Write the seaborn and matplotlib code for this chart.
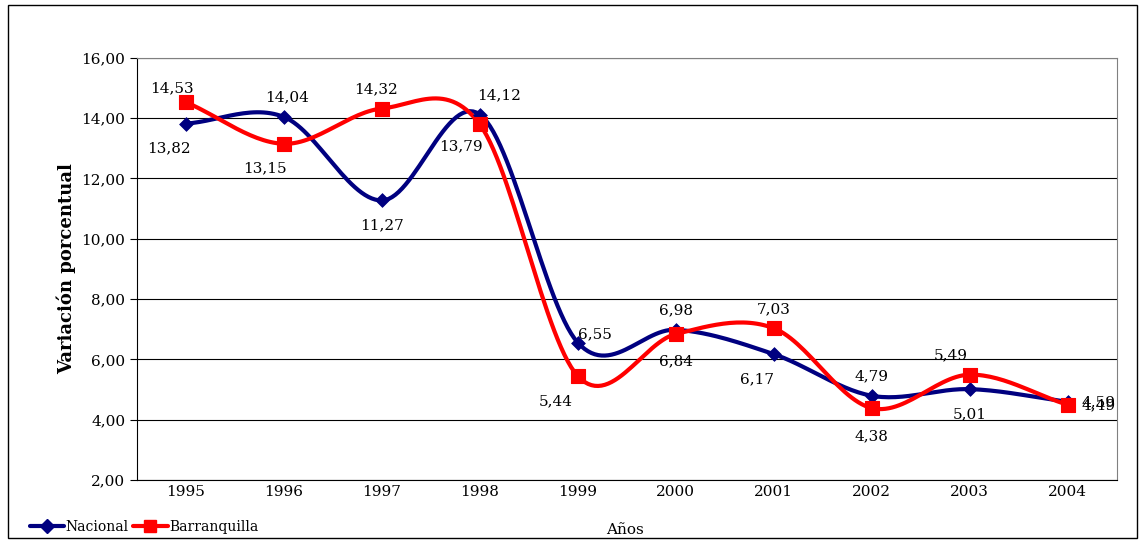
import numpy as np
import pandas as pd
import matplotlib
matplotlib.use("Agg")
import matplotlib.pyplot as plt
import seaborn as sns
from matplotlib.lines import Line2D

years = ["1995", "1996", "1997", "1998", "1999", "2000", "2001", "2002", "2003", "2004"]
nacional = [13.82, 14.04, 11.27, 14.12, 6.55, 6.98, 6.17, 4.79, 5.01, 4.59]
barranquilla = [14.53, 13.15, 14.32, 13.79, 5.44, 6.84, 7.03, 4.38, 5.49, 4.49]

# label offsets in points (dx, dy)
off_n = [(-12, -18), (2, 14), (0, -18), (14, 14), (12, 6), (0, 14), (-12, -18), (0, 14), (0, -18), (22, 0)]
off_b = [(-10, 10), (-14, -18), (-4, 14), (-14, -16), (-16, -18), (0, -20), (0, 14), (0, -20), (-14, 14), (22, 0)]

sns.set_style("white")
plt.rcParams['font.family'] = ['DejaVu Serif']
plt.rcParams.update({"text.color": "black", "axes.labelcolor": "black",
                     "xtick.color": "black", "ytick.color": "black"})

df = pd.DataFrame({"x": np.arange(len(years)) + 0.5, "Nacional": nacional, "Barranquilla": barranquilla})


def smooth(x, y, n=30):
    # Catmull-Rom style smoothing like spreadsheet curves
    x = np.asarray(x, float); y = np.asarray(y, float)
    px = np.concatenate([[2 * x[0] - x[1]], x, [2 * x[-1] - x[-2]]])
    py = np.concatenate([[2 * y[0] - y[1]], y, [2 * y[-1] - y[-2]]])
    xs, ys = [], []
    t = np.linspace(0, 1, n)
    for i in range(1, len(px) - 2):
        for p, out in ((px, xs), (py, ys)):
            p0, p1, p2, p3 = p[i - 1], p[i], p[i + 1], p[i + 2]
            out.extend(0.5 * (2 * p1 + (-p0 + p2) * t + (2 * p0 - 5 * p1 + 4 * p2 - p3) * t ** 2
                              + (-p0 + 3 * p1 - 3 * p2 + p3) * t ** 3))
    return np.array(xs), np.array(ys)


fig = plt.figure(figsize=(11.46, 5.41), dpi=100)
fig.patches.append(plt.Rectangle((0.007, 0.005), 0.985, 0.985, transform=fig.transFigure,
                                 fill=False, edgecolor="black", lw=1))
ax = fig.add_axes([0.1195, 0.113, 0.855, 0.78])

for col, color, marker, ms, offs in (("Nacional", "#000080", "D", 7, off_n),
                                      ("Barranquilla", "#FF0000", "s", 10, off_b)):
    sx, sy = smooth(df["x"], df[col])
    ax.plot(sx, sy, color=color, lw=3, zorder=3)
    sns.scatterplot(data=df, x="x", y=col, marker=marker, s=ms ** 2, color=color,
                    edgecolor=color, ax=ax, zorder=4, legend=False)
    for xv, yv, (dx, dy) in zip(df["x"], df[col], offs):
        ax.annotate(f"{yv:.2f}".replace(".", ","), (xv, yv), xytext=(dx, dy),
                    textcoords="offset points", ha="center", va="center", fontsize=11)

ax.set_xlim(0, 10)
ax.set_ylim(2, 16)
ax.set_yticks(np.arange(2, 17, 2))
ax.set_yticklabels([f"{v:.2f}".replace(".", ",") for v in np.arange(2, 17, 2)], fontsize=11)
ax.set_xticks(np.arange(10) + 0.5)
ax.set_xticklabels(years, fontsize=11)
ax.set_xticks(np.arange(11), minor=True)
ax.tick_params(axis="x", which="major", length=0)
ax.tick_params(axis="x", which="minor", length=5, direction="out")
ax.tick_params(axis="y", length=5, direction="out", left=True)
ax.grid(axis="y", color="black", lw=0.8)
ax.set_axisbelow(True)
for s in ax.spines.values():
    s.set_color("#808080")
ax.spines["left"].set_color("black")
ax.spines["bottom"].set_color("black")
ax.set_xlabel("")
ax.set_ylabel("Variación porcentual", fontsize=13, fontweight="bold")
fig.text(0.545, 0.02, "Años", ha="center", va="center", fontsize=11)

handles = [Line2D([], [], color="#000080", lw=3, marker="D", ms=7, label="Nacional"),
           Line2D([], [], color="#FF0000", lw=3, marker="s", ms=9, label="Barranquilla")]
fig.legend(handles=handles, loc="lower left", bbox_to_anchor=(0.015, -0.01), ncol=2,
           frameon=False, fontsize=10, handlelength=2.5, columnspacing=0.3, handletextpad=0.1)

fig.savefig("out.png", dpi=100)
